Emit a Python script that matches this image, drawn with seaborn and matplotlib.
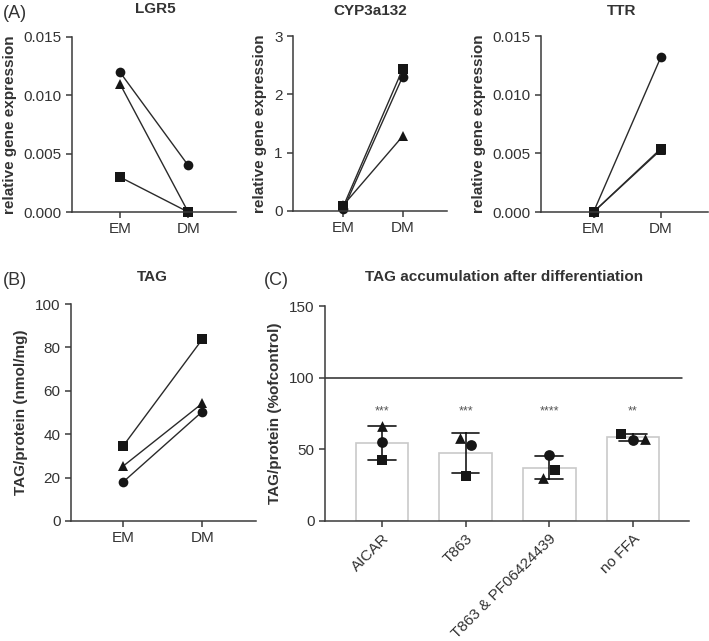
import numpy as np
import pandas as pd
import matplotlib
matplotlib.use("Agg")
import matplotlib.pyplot as plt
import seaborn as sns

# ---------------- data ----------------
media = ["EM", "DM"]
replicates = ["r1", "r2", "r3"]          # circle, triangle, square

lgr5_r1 = [0.012, 0.004]
lgr5_r2 = [0.011, 0.0]
lgr5_r3 = [0.003, 0.0]

cyp_r1 = [0.03, 2.30]
cyp_r2 = [0.10, 1.28]
cyp_r3 = [0.08, 2.43]

ttr_r1 = [0.0, 0.0132]
ttr_r2 = [0.0, 0.0053]
ttr_r3 = [0.0, 0.0054]

tag_r1 = [18.0, 50.4]
tag_r2 = [25.3, 54.2]
tag_r3 = [34.6, 83.7]

treatments = ["AICAR", "T863", "T863 & PF06424439", "no FFA"]
pct_r1 = [55.0, 53.0, 46.0, 56.5]
pct_r2 = [66.0, 58.0, 30.0, 57.5]
pct_r3 = [42.5, 31.5, 35.5, 61.0]
stars = ["***", "***", "****", "**"]

# ---------------- style ----------------
sns.set_theme(style="ticks")
plt.rcParams["font.family"] = ["Liberation Sans", "DejaVu Sans"]
TXT = "#333333"
AX = "#3a3a3a"
MK = "#161616"
plt.rcParams.update({
    "axes.edgecolor": AX, "axes.linewidth": 1.1,
    "xtick.color": AX, "ytick.color": AX,
    "xtick.labelcolor": TXT, "ytick.labelcolor": TXT,
    "xtick.labelsize": 11, "ytick.labelsize": 11,
    "xtick.major.size": 4, "ytick.major.size": 4,
    "xtick.major.width": 1.1, "ytick.major.width": 1.1,
    "axes.labelcolor": TXT,
})

W, H = 709, 641
fig = plt.figure(figsize=(W / 100, H / 100), dpi=100)


def add_ax(left, right, top, bottom):
    return fig.add_axes([left / W, 1 - bottom / H, (right - left) / W, (bottom - top) / H])


marker_map = {"r1": "o", "r2": "^", "r3": "s"}


def paired(ax, reps, ylim, yticks, fmt, ylabel, xlim):
    rows = []
    for rep, vals in zip(replicates, reps):
        for m, v in zip(media, vals):
            rows.append({"medium": m, "value": v, "rep": rep})
    df = pd.DataFrame(rows)
    sns.lineplot(data=df, x="medium", y="value", hue="rep", style="rep",
                 markers=marker_map, dashes=False, palette=[MK] * 3,
                 markersize=7, markeredgewidth=0, linewidth=1.0,
                 errorbar=None, sort=False, legend=False, ax=ax)
    for ln in ax.lines:
        ln.set_clip_on(False)
        ln.set_color("#2a2a2a")
        ln.set_markerfacecolor(MK)
    ax.set_xlim(*xlim)
    ax.set_ylim(*ylim)
    ax.set_yticks(yticks)
    ax.set_yticklabels([fmt.format(t) for t in yticks])
    ax.set_xlabel("")
    ax.set_ylabel(ylabel, fontsize=11, fontweight="bold", labelpad=5)
    sns.despine(ax=ax)


ax1 = add_ax(72, 236, 37, 212)
paired(ax1, [lgr5_r1, lgr5_r2, lgr5_r3], (0, 0.015), [0, 0.005, 0.010, 0.015],
       "{:.3f}", "relative gene expression", (-0.7, 1.7))
ax2 = add_ax(293, 447, 36, 211)
paired(ax2, [cyp_r1, cyp_r2, cyp_r3], (0, 3), [0, 1, 2, 3],
       "{:.0f}", "relative gene expression", (-0.85, 1.75))
ax3 = add_ax(541, 708, 36, 212)
paired(ax3, [ttr_r1, ttr_r2, ttr_r3], (0, 0.015), [0, 0.005, 0.010, 0.015],
       "{:.3f}", "relative gene expression", (-0.78, 1.7))
axB = add_ax(71, 256, 304, 521)
paired(axB, [tag_r1, tag_r2, tag_r3], (0, 100), [0, 20, 40, 60, 80, 100],
       "{:.0f}", "TAG/protein (nmol/mg)", (-0.66, 1.68))

# ---------------- panel C ----------------
axC = add_ax(325, 689, 306, 521)
rows = []
for rep, vals in zip(replicates, [pct_r1, pct_r2, pct_r3]):
    for t, v in zip(treatments, vals):
        rows.append({"treatment": t, "value": v, "rep": rep})
dfc = pd.DataFrame(rows)
sns.barplot(data=dfc, x="treatment", y="value", order=treatments,
            errorbar="sd", capsize=0.33, width=0.63, color="white",
            edgecolor="#c9c9c9", linewidth=1.2,
            err_kws={"color": MK, "linewidth": 1.2}, ax=axC)
jitter = {"r1": [0, 0.07, 0, 0], "r2": [0, -0.07, -0.075, 0.14], "r3": [0, 0, 0.065, -0.14]}
for rep, vals in zip(replicates, [pct_r1, pct_r2, pct_r3]):
    xs = np.arange(len(treatments)) + np.array(jitter[rep])
    sns.scatterplot(x=xs, y=vals, marker=marker_map[rep], s=60, color=MK,
                    linewidth=0, ax=axC, zorder=5)
axC.axhline(100, xmin=0, xmax=0.98, color="#2a2a2a", linewidth=1.1)
for i, s in enumerate(stars):
    axC.text(i, 74, s, ha="center", va="baseline", fontsize=9, color="#555555")
axC.set_xlim(-0.68, 3.67)
axC.set_ylim(0, 150)
axC.set_yticks([0, 50, 100, 150])
axC.set_xticks(range(len(treatments)))
axC.set_xticklabels(treatments, rotation=45, ha="right", rotation_mode="anchor")
axC.set_xlabel("")
axC.set_ylabel("TAG/protein (%ofcontrol)", fontsize=11, fontweight="bold", labelpad=5)
sns.despine(ax=axC)

# ---------------- titles and panel letters ----------------
def ftext(x, y, s, **kw):
    fig.text(x / W, 1 - y / H, s, va="center", color=TXT, **kw)

ftext(3, 13, "(A)", fontsize=13, ha="left")
ftext(155, 9, "LGR5", fontsize=11, fontweight="bold", ha="center")
ftext(370, 11, "CYP3a132", fontsize=11, fontweight="bold", ha="center")
ftext(622, 11, "TTR", fontsize=11, fontweight="bold", ha="center")
ftext(3, 280, "(B)", fontsize=13, ha="left")
ftext(152, 277, "TAG", fontsize=11, fontweight="bold", ha="center")
ftext(264, 280, "(C)", fontsize=13, ha="left")
ftext(504, 277, "TAG accumulation after differentiation", fontsize=11,
      fontweight="bold", ha="center")

fig.savefig("out.png", dpi=100)
